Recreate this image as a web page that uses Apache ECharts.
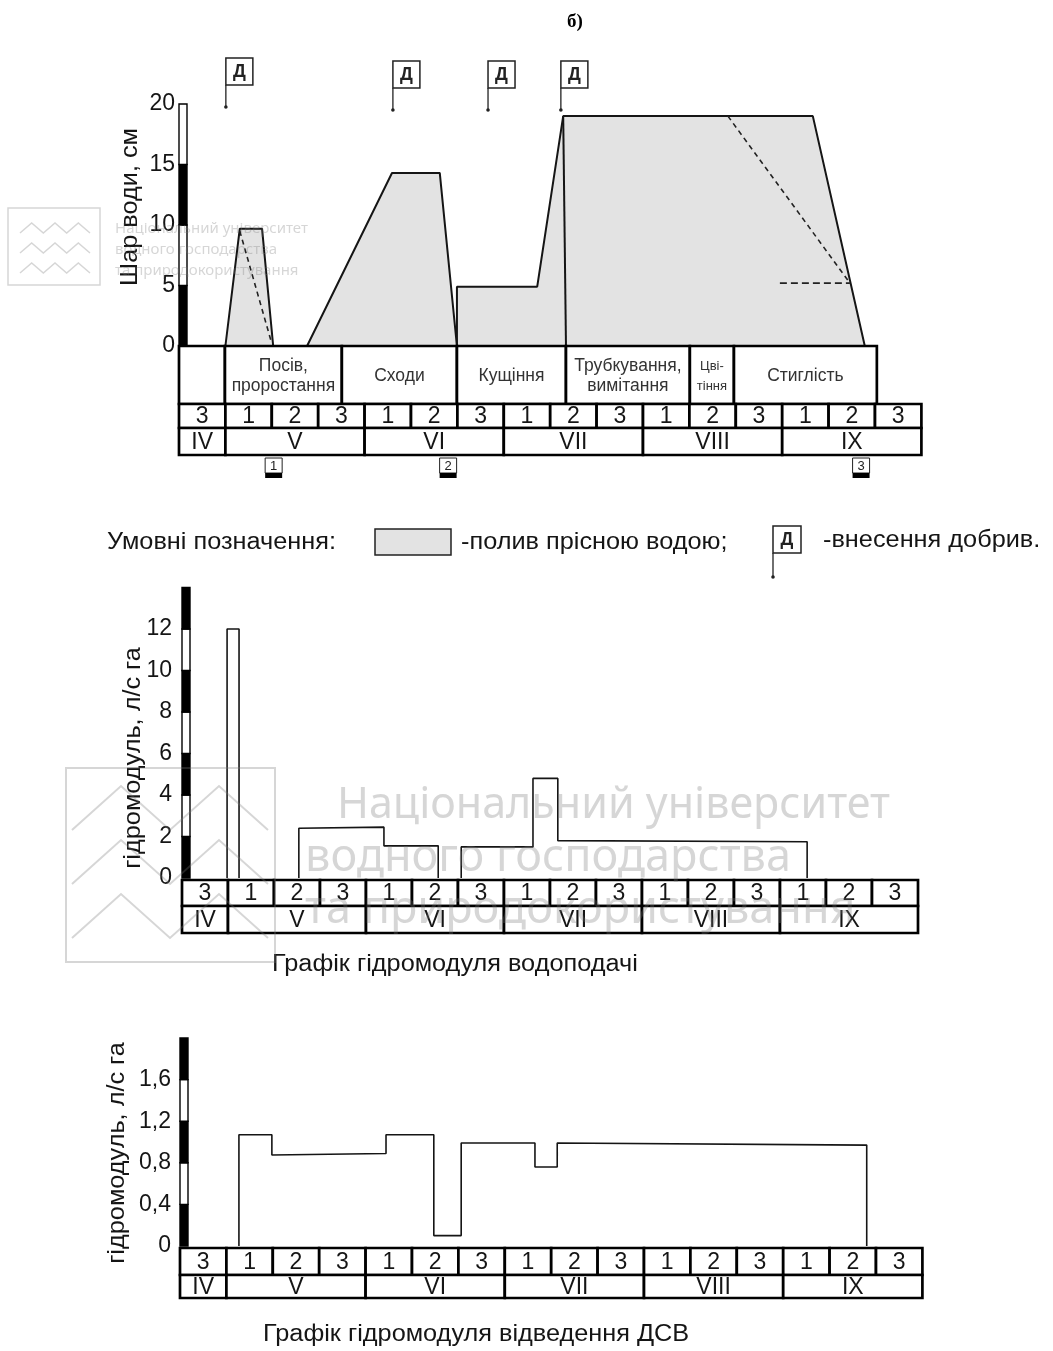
<!DOCTYPE html>
<html>
<head>
<meta charset="utf-8">
<script src="https://cdn.jsdelivr.net/npm/echarts@6/dist/echarts.min.js"></script>
<style>
html, body { margin: 0; padding: 0; background: #fff; }
#chart { width: 1053px; height: 1351px; }
</style>
</head>
<body>
<div id="chart"></div>
<script>
// Декади та місяці (спільна шкала для трьох графіків, 1 одиниця = 1 декада)
const decadeLabels = ['3','1','2','3','1','2','3','1','2','3','1','2','3','1','2','3'];
const monthLabels = ['IV','V','VI','VII','VIII','IX'];
const monthSpans = [1, 3, 3, 3, 3, 3];
const phaseLabels = ['', 'Посів,\nпроростання', 'Сходи', 'Кущіння', 'Трубкування,\nвимітання', 'Цві-\nтіння', 'Стиглість'];
const phaseBounds = [0, 0.99, 3.51, 5.99, 8.34, 11.01, 11.96, 15.04];

// Шар води, см
const waterLayer1 = [[1.0, 0], [1.31, 9.7], [1.79, 9.7], [2.03, 0]];
const waterLayer2 = [[2.76, 0], [4.59, 14.3], [5.62, 14.3], [5.99, 0]];
const waterLayer3 = [[5.99, 0], [5.99, 4.9], [7.72, 4.9], [8.28, 19], [13.66, 19], [14.78, 0]];
const layerDivider = [[8.28, 19], [8.34, 0]];
const drawdown1 = [[1.31, 9.5], [2.0, 0.2]];
const drawdown2 = [[11.83, 19], [14.46, 5.2]];
const drawdown3 = [[12.95, 5.2], [14.46, 5.2]];
const fertilizerAt = [1.01, 4.61, 6.66, 8.23];
const fertilizerLevel = [19.75, 19.5, 19.5, 19.5];
const markerAt = [2.04, 5.8, 14.7];
const markerLabels = ['1', '2', '3'];

// Гідромодуль водоподачі, л/с га
const supplyPulse = [[0.98, 0], [0.98, 12], [1.24, 12], [1.24, 0]];
const supplyStep1 = [[2.54, 0], [2.54, 2.4], [4.39, 2.45], [4.39, 1.55], [5.57, 1.55], [5.57, 0]];
const supplyStep2 = [[6.07, 0], [6.07, 1.5], [7.63, 1.5], [7.63, 4.8], [8.17, 4.8], [8.17, 1.8], [13.59, 1.75], [13.59, 0]];

// Гідромодуль відведення ДСВ, л/с га
const drainStep = [[1.27, 0], [1.27, 1.07], [1.98, 1.07], [1.98, 0.875], [4.44, 0.89], [4.44, 1.07], [5.47, 1.07],
  [5.47, 0.1], [6.06, 0.1], [6.06, 0.99], [7.65, 0.99], [7.65, 0.76], [8.13, 0.76], [8.13, 0.99], [14.8, 0.97], [14.8, 0]];

const FONT = '"Liberation Sans", Arial, sans-serif';
const INK = '#151515';
const WM = 'rgba(120,120,120,0.3)';

// Смугаста вісь Y (чорні/білі відрізки)
function axisBar(gi, step, max) {
    const starts = [];
    for (let v = 0; v < max - 1e-9; v += step) starts.push(+v.toFixed(4));
    return {
        type: 'custom', xAxisIndex: gi, yAxisIndex: gi, clip: false, z: 10, silent: true,
        data: starts.map(v => [0, v, v + step]),
        renderItem: function (params, api) {
            const p0 = api.coord([0, api.value(1)]);
            const p1 = api.coord([0, api.value(2)]);
            return {
                type: 'rect',
                shape: { x: p0[0], y: p1[1], width: 8, height: p0[1] - p1[1] },
                style: { fill: params.dataIndex % 2 === 0 ? '#000' : '#fff', stroke: '#000', lineWidth: 1.4 }
            };
        }
    };
}

// Таблиця фаз / декад / місяців під графіком
function tableSeries(gi, withPhases, rows) {
    const items = [], labels = [];
    if (withPhases) {
        phaseLabels.forEach((l, i) => { items.push([phaseBounds[i], phaseBounds[i + 1], 0]); labels.push(l); });
    }
    decadeLabels.forEach((l, i) => { items.push([i, i + 1, 1]); labels.push(l); });
    let s = 0;
    monthLabels.forEach((l, i) => { items.push([s, s + monthSpans[i], 2]); labels.push(l); s += monthSpans[i]; });
    return {
        type: 'custom', xAxisIndex: gi, yAxisIndex: gi, clip: false, z: 8, silent: true,
        data: items,
        renderItem: function (params, api) {
            const k = api.value(2);
            const a = api.coord([api.value(0), 0]);
            const b = api.coord([api.value(1), 0]);
            let y = a[1] + rows.gap, h;
            if (k === 0) h = rows.phaseH;
            else if (k === 1) { y += rows.phaseH; h = rows.decH; }
            else { y += rows.phaseH + rows.decH; h = rows.monH; }
            const w = b[0] - a[0];
            let font = '23px ' + FONT;
            if (k === 0) font = (w < 50 ? '13px ' : '17.5px ') + FONT;
            return {
                type: 'group',
                children: [
                    { type: 'rect', shape: { x: a[0], y: y, width: w, height: h },
                      style: { fill: '#fff', stroke: '#000', lineWidth: 2.7 } },
                    { type: 'text', style: { text: labels[params.dataIndex], x: a[0] + w / 2, y: y + h / 2 + 1,
                      align: 'center', verticalAlign: 'middle', font: font, lineHeight: k === 0 ? 20 : 24,
                      fill: k === 0 ? '#333' : INK } }
                ]
            };
        }
    };
}

function lineSeries(gi, data, opts) {
    return Object.assign({
        type: 'line', xAxisIndex: gi, yAxisIndex: gi, data: data, symbol: 'none', silent: true,
        lineStyle: { color: INK, width: 1.6 }, z: 4
    }, opts || {});
}

function zigzag(x0, x1, y, amp, n) {
    const pts = [];
    for (let i = 0; i <= n; i++) pts.push([x0 + (x1 - x0) * i / n, i % 2 === 0 ? y + amp : y - amp]);
    return pts;
}

// Текст з легким горизонтальним розтягом, як у оригіналі
function label(text, x, y, size, extra) {
    return Object.assign({
        type: 'text', x: x, y: y, scaleX: 1.1,
        style: { text: text, x: 0, y: 0, verticalAlign: 'middle', font: size + 'px ' + FONT, fill: INK }
    }, extra || {});
}

const chart = echarts.init(document.getElementById('chart'), null, { renderer: 'canvas' });

const yLabel = { fontSize: 23, color: INK, fontFamily: FONT };

const option = {
    backgroundColor: '#fff',
    animation: false,
    grid: [
        { left: 179, top: 104, width: 742.4, height: 242, outerBoundsMode: 'none' },
        { left: 182, top: 587.5, width: 736, height: 290.5, outerBoundsMode: 'none' },
        { left: 180, top: 1038, width: 742.4, height: 208, outerBoundsMode: 'none' }
    ],
    xAxis: [0, 1, 2].map(i => ({ gridIndex: i, type: 'value', min: 0, max: 16, show: false })),
    yAxis: [
        { gridIndex: 0, type: 'value', min: 0, max: 20, interval: 5,
          axisLine: { show: false }, axisTick: { show: false }, splitLine: { show: false },
          axisLabel: Object.assign({ margin: 4 }, yLabel) },
        { gridIndex: 1, type: 'value', min: 0, max: 14, interval: 2,
          axisLine: { show: false }, axisTick: { show: false }, splitLine: { show: false },
          axisLabel: Object.assign({ margin: 10, formatter: v => (v > 12.5 ? '' : String(v)) }, yLabel) },
        { gridIndex: 2, type: 'value', min: 0, max: 2, interval: 0.4,
          axisLine: { show: false }, axisTick: { show: false }, splitLine: { show: false },
          axisLabel: Object.assign({ margin: 9,
            formatter: v => (v > 1.7 ? '' : (v === 0 ? '0' : v.toFixed(1).replace('.', ','))) }, yLabel) }
    ],
    graphic: [
        // заголовки та підписи осей
        { type: 'text', style: { text: 'б)', x: 575, y: 22, align: 'center', verticalAlign: 'middle',
          font: 'bold 19px "Liberation Serif", serif', fill: '#000' } },
        label('Шар води, см', 131, 207, 23, { rotation: Math.PI / 2, style: { text: 'Шар води, см', x: 0, y: 0,
          align: 'center', verticalAlign: 'middle', font: '23px ' + FONT, fill: INK } }),
        label('гідромодуль, л/с га', 134, 758, 23, { rotation: Math.PI / 2, style: { text: 'гідромодуль, л/с га', x: 0, y: 0,
          align: 'center', verticalAlign: 'middle', font: '23px ' + FONT, fill: INK } }),
        label('гідромодуль, л/с га', 118, 1153, 23, { rotation: Math.PI / 2, style: { text: 'гідромодуль, л/с га', x: 0, y: 0,
          align: 'center', verticalAlign: 'middle', font: '23px ' + FONT, fill: INK } }),
        label('Графік гідромодуля водоподачі', 272, 965, 23),
        label('Графік гідромодуля відведення ДСВ', 263, 1335, 23),

        // умовні позначення
        label('Умовні позначення:', 107, 543, 23),
        { type: 'rect', shape: { x: 375, y: 529, width: 76, height: 26 }, style: { fill: '#e3e3e3', stroke: '#222', lineWidth: 1.5 } },
        label('-полив прісною водою;', 461, 543, 23),
        { type: 'rect', shape: { x: 773, y: 526, width: 28, height: 27 }, style: { fill: '#fff', stroke: '#222', lineWidth: 1.5 } },
        { type: 'text', style: { text: 'Д', x: 787, y: 540, align: 'center', verticalAlign: 'middle', font: 'bold 18px ' + FONT, fill: '#222' } },
        { type: 'line', shape: { x1: 773, y1: 553, x2: 773, y2: 577 }, style: { stroke: '#222', lineWidth: 1.3 } },
        { type: 'circle', shape: { cx: 773, cy: 577, r: 1.8 }, style: { fill: '#222' } },
        label('-внесення добрив.', 823, 541, 23),

        // водяні знаки (поверх, напівпрозорі)
        { type: 'rect', z: 50, shape: { x: 8, y: 208, width: 92, height: 77 }, style: { fill: 'none', stroke: WM, lineWidth: 1.5 } },
        { type: 'polyline', z: 50, shape: { points: zigzag(20, 90, 228, 5, 6) }, style: { stroke: WM, lineWidth: 1.5, fill: 'none' } },
        { type: 'polyline', z: 50, shape: { points: zigzag(20, 90, 248, 5, 6) }, style: { stroke: WM, lineWidth: 1.5, fill: 'none' } },
        { type: 'polyline', z: 50, shape: { points: zigzag(20, 90, 268, 5, 6) }, style: { stroke: WM, lineWidth: 1.5, fill: 'none' } },
        { type: 'text', z: 50, style: { text: 'Національний університет\nводного господарства\nта природокористування', x: 115, y: 218,
          font: '15px "Noto Sans"', lineHeight: 21, fill: WM } },
        { type: 'rect', z: 50, shape: { x: 66, y: 768, width: 209, height: 194 }, style: { fill: 'none', stroke: WM, lineWidth: 2 } },
        { type: 'polyline', z: 50, shape: { points: zigzag(72, 268, 808, 22, 4) }, style: { stroke: WM, lineWidth: 2, fill: 'none' } },
        { type: 'polyline', z: 50, shape: { points: zigzag(72, 268, 862, 22, 4) }, style: { stroke: WM, lineWidth: 2, fill: 'none' } },
        { type: 'polyline', z: 50, shape: { points: zigzag(72, 268, 916, 22, 4) }, style: { stroke: WM, lineWidth: 2, fill: 'none' } },
        { type: 'text', z: 50, style: { text: 'Національний університет', x: 337, y: 806, verticalAlign: 'middle',
          font: '43px "Noto Sans"', fill: WM } },
        { type: 'text', z: 50, style: { text: 'водного господарства', x: 305, y: 858, verticalAlign: 'middle',
          font: '45px "Noto Sans"', fill: WM } },
        { type: 'text', z: 50, style: { text: 'та природокористування', x: 305, y: 910, verticalAlign: 'middle',
          font: '45px "Noto Sans"', fill: WM } }
    ],
    series: [
        // --- шар води ---
        lineSeries(0, waterLayer1, { areaStyle: { color: '#e3e3e3', opacity: 1 }, lineStyle: { color: INK, width: 2 } }),
        lineSeries(0, waterLayer2, { areaStyle: { color: '#e3e3e3', opacity: 1 }, lineStyle: { color: INK, width: 2 } }),
        lineSeries(0, waterLayer3, { areaStyle: { color: '#e3e3e3', opacity: 1 }, lineStyle: { color: INK, width: 2 } }),
        lineSeries(0, layerDivider, { lineStyle: { color: INK, width: 2 } }),
        lineSeries(0, drawdown1, { lineStyle: { color: '#222', width: 1.6, type: [5, 4] } }),
        lineSeries(0, drawdown2, { lineStyle: { color: '#222', width: 1.6, type: [5, 4] } }),
        lineSeries(0, drawdown3, { lineStyle: { color: '#222', width: 1.6, type: [7, 4] } }),
        {
            type: 'custom', xAxisIndex: 0, yAxisIndex: 0, clip: false, z: 6, silent: true,
            data: fertilizerAt.map((x, i) => [x, fertilizerLevel[i]]),
            renderItem: function (params, api) {
                const p = api.coord([api.value(0), api.value(1)]);
                return {
                    type: 'group',
                    children: [
                        { type: 'line', shape: { x1: p[0], y1: p[1], x2: p[0], y2: p[1] - 22 }, style: { stroke: '#222', lineWidth: 1.3 } },
                        { type: 'rect', shape: { x: p[0], y: p[1] - 49, width: 27, height: 27 }, style: { fill: '#fff', stroke: '#222', lineWidth: 1.5 } },
                        { type: 'text', style: { text: 'Д', x: p[0] + 13.5, y: p[1] - 35, align: 'center', verticalAlign: 'middle',
                          font: 'bold 18px ' + FONT, fill: '#222' } },
                        { type: 'circle', shape: { cx: p[0], cy: p[1], r: 1.8 }, style: { fill: '#222' } }
                    ]
                };
            }
        },
        {
            type: 'custom', xAxisIndex: 0, yAxisIndex: 0, clip: false, z: 6, silent: true,
            data: markerAt.map(x => [x, 0]),
            renderItem: function (params, api) {
                const p = api.coord([api.value(0), 0]);
                const y = p[1] + 112;
                return {
                    type: 'group',
                    children: [
                        { type: 'rect', shape: { x: p[0] - 8.5, y: y, width: 17, height: 15 }, style: { fill: '#fff', stroke: '#222', lineWidth: 1 } },
                        { type: 'text', style: { text: markerLabels[params.dataIndex], x: p[0], y: y + 8, align: 'center',
                          verticalAlign: 'middle', font: '13px ' + FONT, fill: '#222' } },
                        { type: 'rect', shape: { x: p[0] - 8.5, y: y + 15, width: 17, height: 5 }, style: { fill: '#000' } }
                    ]
                };
            }
        },
        tableSeries(0, true, { gap: 0, phaseH: 58, decH: 24, monH: 27 }),
        axisBar(0, 5, 20),

        // --- гідромодуль водоподачі ---
        lineSeries(1, supplyPulse),
        lineSeries(1, supplyStep1),
        lineSeries(1, supplyStep2),
        tableSeries(1, false, { gap: 2, phaseH: 0, decH: 26, monH: 27 }),
        axisBar(1, 2, 14),

        // --- гідромодуль відведення ДСВ ---
        lineSeries(2, drainStep),
        tableSeries(2, false, { gap: 2, phaseH: 0, decH: 27, monH: 23 }),
        axisBar(2, 0.4, 2)
    ]
};

chart.setOption(option);
window.addEventListener('resize', () => chart.resize());
</script>
</body>
</html>
